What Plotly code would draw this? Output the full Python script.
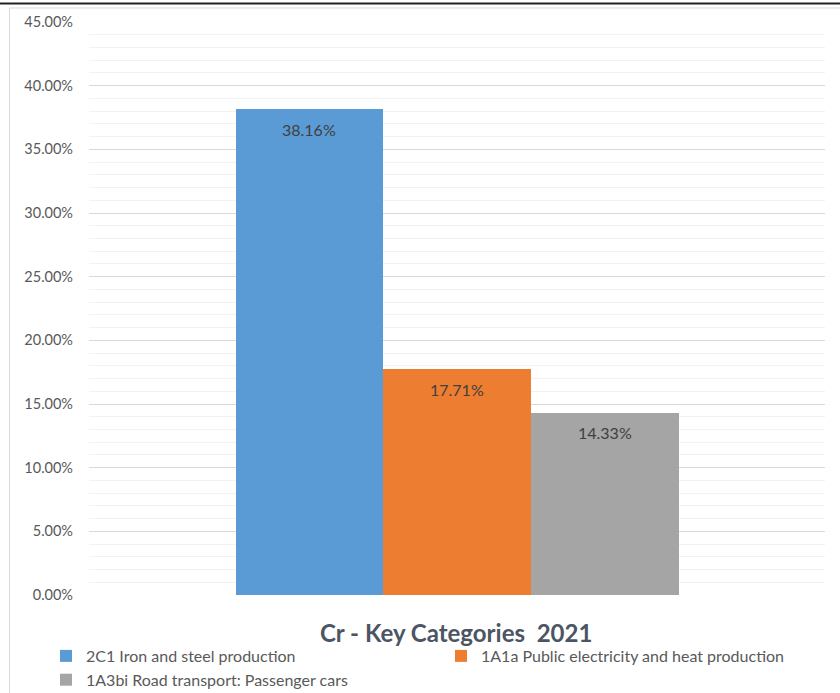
import plotly.graph_objects as go

categories = ["2C1 Iron and steel production",
              "1A1a Public electricity and heat production",
              "1A3bi Road transport: Passenger cars"]
values = [0.3816, 0.1771, 0.1433]
colors = ["#5B9BD5", "#ED7D31", "#A5A5A5"]
title_text = "Cr - Key Categories  2021"

W, H = 840, 693
L, R, T, B = 89, 15, 22, 98
PW, PH = W - L - R, H - T - B


def px(x):
    return (x - L) / PW


def py(y):
    return (H - B - y) / PH


FONT = "Lato, 'Open Sans', sans-serif"

fig = go.Figure()
for cat, val, col in zip(categories, values, colors):
    fig.add_trace(go.Bar(
        x=[cat], y=[val], name=cat,
        marker=dict(color=col, line=dict(width=0)),
        width=1.0,
    ))
    fig.add_annotation(
        x=cat, y=val, xref="x", yref="y",
        text=f"{val*100:.2f}%", showarrow=False,
        yshift=-20, font=dict(family=FONT, size=16, color="#404040"),
    )

half = (3 * PW / 443.0) / 2
center = 1.0
fig.update_layout(
    width=W, height=H,
    margin=dict(l=L, r=R, t=T, b=B, pad=0, autoexpand=False),
    paper_bgcolor="white", plot_bgcolor="white",
    barmode="overlay", bargap=0,
    showlegend=True,
    font=dict(family=FONT, color="#595959"),
    xaxis=dict(
        type="category", categoryorder="array", categoryarray=categories,
        range=[center - half, center + half],
        showticklabels=False, showgrid=False, zeroline=False, showline=False,
        ticks="",
    ),
    yaxis=dict(
        range=[0, 0.45], dtick=0.05, tick0=0, tickformat=".2%",
        showgrid=True, gridcolor="#D9D9D9", gridwidth=1,
        minor=dict(dtick=0.01, showgrid=True, gridcolor="#F2F2F2", gridwidth=1),
        zeroline=False, showline=False, ticks="",
        ticklabelstandoff=15,
        tickfont=dict(family=FONT, size=14.5, color="#595959"),
    ),
    legend=dict(
        orientation="h", x=px(46), xanchor="left", y=py(639), yanchor="top",
        entrywidth=350, entrywidthmode="pixels",
        font=dict(family=FONT, size=16, color="#595959"),
        bgcolor="rgba(0,0,0,0)", traceorder="normal",
        itemclick=False,
    ),
    annotations=list(fig.layout.annotations) + [dict(
        x=px(456), y=py(632), xref="paper", yref="paper",
        text=f"<b>{title_text}</b>", showarrow=False,
        xanchor="center", yanchor="middle",
        font=dict(family=FONT, size=24, color="#4B5563"),
    )],
    shapes=[
        dict(type="line", xref="paper", yref="paper",
             x0=px(0), x1=px(840), y0=py(3.5), y1=py(3.5),
             line=dict(color="#222222", width=2)),
        dict(type="line", xref="paper", yref="paper",
             x0=px(9.5), x1=px(840), y0=py(8), y1=py(8),
             line=dict(color="#D9D9D9", width=1)),
        dict(type="line", xref="paper", yref="paper",
             x0=px(9.5), x1=px(9.5), y0=py(8), y1=py(693),
             line=dict(color="#D9D9D9", width=1)),
    ],
)

fig.write_html(
    "out.html",
    config={"displayModeBar": False},
    post_script=(
        "document.body.style.margin='0';document.body.style.padding='0';"
        "document.body.style.overflow='hidden';"
        "document.documentElement.style.overflow='hidden';"
    ),
)
